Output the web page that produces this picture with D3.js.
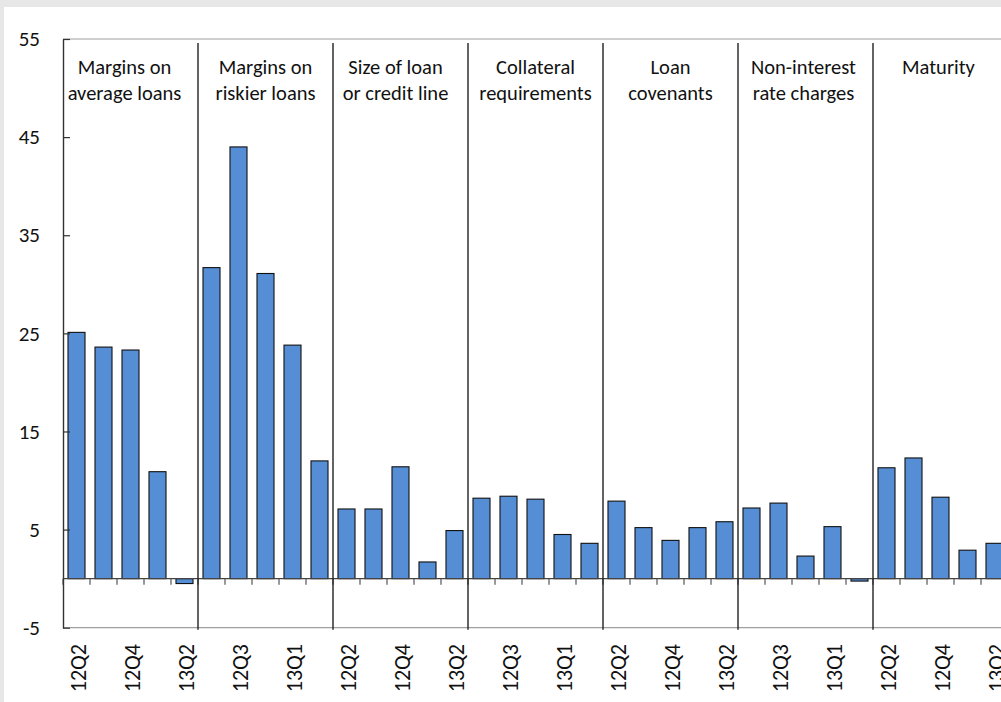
<!DOCTYPE html>
<html>
<head>
<meta charset="utf-8">
<script src="https://cdn.jsdelivr.net/npm/d3@7"></script>
<style>
  html, body { margin: 0; padding: 0; background: #e7e7e7; }
  svg { display: block; font-family: Carlito, Calibri, Lato, sans-serif; }
</style>
</head>
<body>
<div id="chart"></div>
<script>
// Bank lending conditions, net percentage by category and quarter

let groupLabels = [
  ["Margins on", "average loans"],
  ["Margins on", "riskier loans"],
  ["Size of loan", "or credit line"],
  ["Collateral", "requirements"],
  ["Loan", "covenants"],
  ["Non-interest", "rate charges"],
  ["Maturity"]
];
let quarters = ["12Q2", "12Q3", "12Q4", "13Q1", "13Q2"];

let marginsAverage = [25.1, 23.6, 23.3, 10.9, -0.5];
let marginsRiskier = [31.7, 44.0, 31.1, 23.8, 12.0];
let sizeOfLoan     = [7.1, 7.1, 11.4, 1.7, 4.9];
let collateral     = [8.2, 8.4, 8.1, 4.5, 3.6];
let covenants      = [7.9, 5.2, 3.9, 5.2, 5.8];
let nonInterest    = [7.2, 7.7, 2.3, 5.3, -0.25];
let maturity       = [11.3, 12.3, 8.3, 2.9, 3.6];

let yTicks = [-5, 5, 15, 25, 35, 45, 55];

let seriesByGroup = [marginsAverage, marginsRiskier, sizeOfLoan, collateral,
                     covenants, nonInterest, maturity];

// flatten into one row per bar
let rows = [];
seriesByGroup.forEach(function(vals, g) {
  vals.forEach(function(v, q) {
    rows.push({ key: g + "-" + q, group: g, quarter: quarters[q], value: v });
  });
});

////////////////////////////////////////////////////////////////////////
// layout

let width = 1001, height = 702;
let plotLeft = 63, plotRight = 1008, plotTop = 39, plotBottom = 627.7;
let labelNudge = [-6, 0, -5, 0, 0, -2, -2];   // hand placed text boxes in original

let svg = d3.select("#chart").append("svg")
  .attr("width", width)
  .attr("height", height);

svg.append("rect")
  .attr("x", 4).attr("y", 7)
  .attr("width", width).attr("height", height)
  .attr("fill", "white");

let pad = 0.37;
let xScale = d3.scaleBand()
  .domain(rows.map(d => d.key))
  .range([plotLeft, plotRight])
  .paddingInner(pad)
  .paddingOuter(pad / 2);
let step = xScale.step();

let yScale = d3.scaleLinear().domain([-5, 55]).range([plotBottom, plotTop]);

// top and bottom frame lines (grey)
svg.append("line")
  .attr("x1", plotLeft).attr("x2", width)
  .attr("y1", yScale(55)).attr("y2", yScale(55))
  .attr("stroke", "#a0a0a0").attr("stroke-width", 1.2);
svg.append("line")
  .attr("x1", plotLeft).attr("x2", width)
  .attr("y1", yScale(-5)).attr("y2", yScale(-5))
  .attr("stroke", "#a0a0a0").attr("stroke-width", 1.2);

// bars
svg.append("g")
  .selectAll("rect")
  .data(rows)
  .enter()
  .append("rect")
  .attr("x", d => xScale(d.key))
  .attr("width", xScale.bandwidth())
  .attr("y", d => yScale(Math.max(0, d.value)))
  .attr("height", d => Math.abs(yScale(d.value) - yScale(0)))
  .attr("fill", "#558ed5")
  .attr("stroke", "#111")
  .attr("stroke-width", 1.1);

// zero line with category ticks hanging below
let zeroY = yScale(0);
svg.append("line")
  .attr("x1", plotLeft).attr("x2", width)
  .attr("y1", zeroY).attr("y2", zeroY)
  .attr("stroke", "#444").attr("stroke-width", 1.3);
svg.append("g")
  .selectAll("line")
  .data(d3.range(rows.length + 1))
  .enter()
  .append("line")
  .attr("x1", i => plotLeft + i * step)
  .attr("x2", i => plotLeft + i * step)
  .attr("y1", zeroY)
  .attr("y2", zeroY + 6)
  .attr("stroke", "#555").attr("stroke-width", 1.2);

// group separators
svg.append("g")
  .selectAll("line")
  .data(d3.range(1, groupLabels.length))
  .enter()
  .append("line")
  .attr("x1", g => plotLeft + g * quarters.length * step)
  .attr("x2", g => plotLeft + g * quarters.length * step)
  .attr("y1", plotTop + 4)
  .attr("y2", plotBottom + 2)
  .attr("stroke", "#222").attr("stroke-width", 1.4);

// group titles
let titles = svg.append("g")
  .selectAll("text")
  .data(groupLabels)
  .enter()
  .append("text")
  .attr("text-anchor", "middle")
  .attr("font-size", "20.5px")
  .attr("fill", "#111");
titles.each(function(lines, g) {
  let cx = plotLeft + (g + 0.5) * quarters.length * step + labelNudge[g];
  d3.select(this).selectAll("tspan")
    .data(lines)
    .enter()
    .append("tspan")
    .attr("x", cx)
    .attr("y", (d, i) => 74 + i * 26)
    .text(d => d);
});

// y axis (plain hyphen for the negative label, as in the original)
let yAxis = d3.axisLeft(yScale)
  .tickValues(yTicks)
  .tickSizeInner(-7)
  .tickSizeOuter(0)
  .tickPadding(23)
  .tickFormat(d => String(d));
let yG = svg.append("g")
  .attr("transform", "translate(" + plotLeft + ",0)")
  .call(yAxis);
yG.select(".domain").attr("stroke", "#333").attr("stroke-width", 1.4);
yG.selectAll(".tick line").attr("stroke", "#333").attr("stroke-width", 1.2);
yG.selectAll(".tick text")
  .attr("x", -23)
  .attr("font-size", "21px")
  .attr("fill", "#111")
  .style("font-family", "Carlito, Calibri, Lato, sans-serif");

// rotated quarter labels, every other category
svg.append("g")
  .selectAll("text")
  .data(rows.filter((d, i) => i % 2 === 0))
  .enter()
  .append("text")
  .attr("transform", d =>
    "translate(" + (xScale(d.key) + xScale.bandwidth() / 2 + 1.5) + "," + 644 + ") rotate(-90)")
  .attr("text-anchor", "end")
  .attr("dy", "0.36em")
  .attr("font-size", "22px")
  .attr("fill", "#111")
  .text(d => d.quarter);
</script>
</body>
</html>
